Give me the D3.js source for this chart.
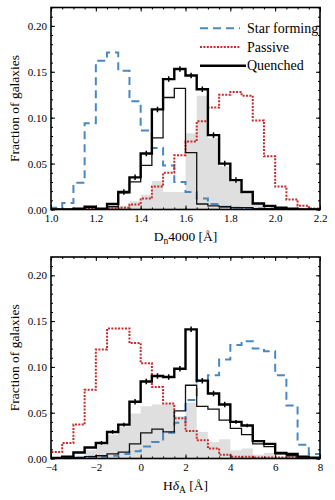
<!DOCTYPE html>
<html>
<head>
<meta charset="utf-8">
<script src="https://cdn.jsdelivr.net/npm/d3@7"></script>
<style>
  body { margin: 0; background: #fff; }
  svg { display: block; }
  text { font-family: "Liberation Serif", "Times New Roman", serif; fill: #000; }
</style>
</head>
<body>
<svg id="chart" width="335" height="500"></svg>
<script>
//
// Data
//

// D_n4000 histogram: bin edges and fractions per bin
const dnEdges = [1.00, 1.05, 1.10, 1.15, 1.20, 1.25, 1.30, 1.35, 1.40, 1.45, 1.50, 1.55,
                 1.60, 1.65, 1.70, 1.75, 1.80, 1.85, 1.90, 1.95, 2.00, 2.05, 2.10, 2.15, 2.20];
const dnStarForming = [0.002, 0.007, 0.029, 0.094, 0.162, 0.171, 0.151, 0.118, 0.086, 0.067, 0.048, 0.030,
                       0.019, 0.012, 0.006, 0.003, 0.002, 0.001, 0.001, 0.001, 0.0005, 0, 0, 0];
const dnPassive = [0, 0, 0, 0.0005, 0.0005, 0.001, 0.002, 0.0055, 0.012, 0.025, 0.040, 0.059,
                   0.074, 0.096, 0.111, 0.125, 0.128, 0.124, 0.097, 0.058, 0.025, 0.011, 0.004, 0.001];
const dnQuenched = [0, 0, 0.001, 0.003, 0.001, 0.006, 0.019, 0.035, 0.061, 0.109, 0.142, 0.153,
                    0.146, 0.131, 0.081, 0.050, 0.032, 0.019, 0.0066, 0.004, 0.002, 0.001, 0, 0];
const dnQuenchedErr = [0, 0, 0, 0, 0, 0, 0.003, 0.003, 0.003, 0.003, 0.003, 0.003,
                       0.003, 0.003, 0.003, 0.003, 0.003, 0, 0, 0, 0, 0, 0, 0];
const dnQuenchedSub = [0, 0, 0.001, 0.002, 0.001, 0.003, 0.018, 0.030, 0.048, 0.078, 0.122, 0.132,
                       0.062, 0.006, 0.004, 0.003, 0.002, 0.002, 0.001, 0.001, 0.001, 0, 0, 0];
const dnQuenchedRest = [0, 0, 0, 0, 0, 0.002, 0.004, 0.009, 0.016, 0.031, 0.019, 0.019,
                        0.083, 0.124, 0.078, 0.047, 0.030, 0.017, 0.006, 0.003, 0.001, 0, 0, 0];
const dnTicks = [1.0, 1.2, 1.4, 1.6, 1.8, 2.0, 2.2];
const dnTickLabels = ['1.0', '1.2', '1.4', '1.6', '1.8', '2.0', '2.2'];

// H-delta_A histogram
const hdEdges = [-4.0, -3.5, -3.0, -2.5, -2.0, -1.5, -1.0, -0.5, 0.0, 0.5, 1.0, 1.5,
                 2.0, 2.5, 3.0, 3.5, 4.0, 4.5, 5.0, 5.5, 6.0, 6.5, 7.0, 7.5, 8.0];
const hdStarForming = [0, 0.0005, 0.001, 0.002, 0.002, 0.003, 0.005, 0.008, 0.013, 0.018, 0.028, 0.039,
                       0.064, 0.085, 0.091, 0.108, 0.124, 0.128, 0.120, 0.117, 0.091, 0.058, 0.015, 0.005];
const hdPassive = [0.007, 0.017, 0.037, 0.075, 0.119, 0.142, 0.142, 0.126, 0.104, 0.078, 0.060, 0.044,
                   0.030, 0.020, 0.011, 0.004, 0.002, 0.002, 0.001, 0.001, 0.001, 0.001, 0.0005, 0];
const hdQuenched = [0.0007, 0.002, 0.0066, 0.012, 0.017, 0.029, 0.037, 0.062, 0.084, 0.090, 0.089, 0.098,
                    0.141, 0.085, 0.071, 0.059, 0.040, 0.036, 0.019, 0.016, 0.006, 0.005, 0.002, 0.001];
const hdQuenchedErr = [0, 0, 0, 0, 0.002, 0.002, 0.002, 0.003, 0.003, 0.003, 0.003, 0.003,
                       0.003, 0.003, 0.003, 0.003, 0.002, 0.002, 0, 0, 0, 0, 0, 0];
const hdQuenchedSub = [0, 0, 0.001, 0.002, 0.003, 0.005, 0.007, 0.016, 0.028, 0.032, 0.029, 0.052,
                       0.080, 0.057, 0.054, 0.042, 0.033, 0.026, 0.016, 0.013, 0.005, 0.003, 0.002, 0.001];
const hdQuenchedRest = [0, 0.001, 0.003, 0.009, 0.015, 0.026, 0.035, 0.049, 0.057, 0.059, 0.060, 0.046,
                        0.061, 0.029, 0.018, 0.021, 0.009, 0.011, 0.004, 0.006, 0.002, 0.002, 0.001, 0];
const hdTicks = [-4, -2, 0, 2, 4, 6, 8];
const hdTickLabels = ['\u22124', '\u22122', '0', '2', '4', '6', '8'];

const yTicks = [0, 0.05, 0.10, 0.15, 0.20];
const yTickLabels = ['0.00', '0.05', '0.10', '0.15', '0.20'];

const legendNames = ['Star forming', 'Passive', 'Quenched'];

//
// Styles
//

const colorBlue = '#4a88c2';
const colorRed = '#c92b2b';
const colorGray = '#dfdfdf';
const left = 51, right = 320;
const serif = '"Liberation Serif", "Times New Roman", serif';

const svg = d3.select('#chart');

function drawPanel(p) {
  const g = svg.append('g');
  const n = p.edges.length - 1;

  const x = d3.scaleLinear().domain([p.edges[0], p.edges[n]]).range([left, right]);
  const y = d3.scaleLinear().domain([0, 0.22]).range([p.bottom, p.top]);

  const clipId = 'clip' + p.id;
  g.append('clipPath').attr('id', clipId)
    .append('rect').attr('x', left).attr('y', p.top)
    .attr('width', right - left).attr('height', p.bottom - p.top);

  const plot = g.append('g').attr('clip-path', `url(#${clipId})`);

  // histogram points as (left edge, value), closed at the last edge
  const steps = vals => vals.map((v, i) => [p.edges[i], v]).concat([[p.edges[n], vals[n - 1]]]);

  const area = d3.area()
      .x(d => x(d[0])).y0(y(0)).y1(d => y(d[1]))
      .curve(d3.curveStepAfter);
  const line = d3.line()
      .x(d => x(d[0])).y(d => y(d[1]))
      .curve(d3.curveStepAfter);
  const closed = vals => [[p.edges[0], 0]].concat(steps(vals), [[p.edges[n], 0]]);

  plot.append('path').attr('d', area(steps(p.rest))).attr('fill', colorGray);

  plot.append('path').attr('d', line(closed(p.starForming)))
    .attr('fill', 'none').attr('stroke', colorBlue).attr('stroke-width', 2)
    .attr('stroke-dasharray', '8,5');

  plot.append('path').attr('d', line(closed(p.passive)))
    .attr('fill', 'none').attr('stroke', colorRed).attr('stroke-width', 2)
    .attr('stroke-dasharray', '2,1.4');

  plot.append('path').attr('d', line(closed(p.sub)))
    .attr('fill', 'none').attr('stroke', '#111').attr('stroke-width', 1.3);

  plot.append('path').attr('d', line(closed(p.quenched)))
    .attr('fill', 'none').attr('stroke', '#000').attr('stroke-width', 2.4);

  // error bars on the quenched histogram
  plot.selectAll('.err')
    .data(p.quenched.map((v, i) => ({c: (p.edges[i] + p.edges[i + 1]) / 2, v: v, e: p.err[i]}))
      .filter(d => d.e > 0))
    .join('line')
      .attr('x1', d => x(d.c)).attr('x2', d => x(d.c))
      .attr('y1', d => y(d.v - d.e)).attr('y2', d => y(d.v + d.e))
      .attr('stroke', '#000').attr('stroke-width', 1.5);

  // axes, ticks pointing inwards on all four sides
  const axes = g.append('g').attr('class', 'axes');
  const styleAxis = sel => {
    sel.attr('font-family', null);
    sel.select('.domain').remove();
    sel.selectAll('.tick line').attr('stroke', '#000').attr('stroke-width', 1);
    sel.selectAll('.tick text').attr('font-size', 11).style('font-family', serif);
  };

  axes.append('g').attr('transform', `translate(0,${p.bottom})`)
    .call(d3.axisBottom(x).tickValues(x.ticks(24)).tickSize(-2).tickFormat(''))
    .call(styleAxis);
  axes.append('g').attr('transform', `translate(0,${p.bottom})`)
    .call(d3.axisBottom(x).tickValues(p.ticks).tickSize(-4).tickPadding(5)
      .tickFormat((d, i) => p.tickLabels[i]))
    .call(styleAxis);
  axes.append('g').attr('transform', `translate(0,${p.top})`)
    .call(d3.axisTop(x).tickValues(x.ticks(24)).tickSize(-2).tickFormat(''))
    .call(styleAxis);
  axes.append('g').attr('transform', `translate(0,${p.top})`)
    .call(d3.axisTop(x).tickValues(p.ticks).tickSize(-4).tickFormat(''))
    .call(styleAxis);

  axes.append('g').attr('transform', `translate(${left},0)`)
    .call(d3.axisLeft(y).tickValues(y.ticks(22)).tickSize(-2).tickFormat(''))
    .call(styleAxis);
  axes.append('g').attr('transform', `translate(${left},0)`)
    .call(d3.axisLeft(y).tickValues(yTicks).tickSize(-4).tickPadding(4)
      .tickFormat((d, i) => yTickLabels[i]))
    .call(styleAxis);
  axes.append('g').attr('transform', `translate(${right},0)`)
    .call(d3.axisRight(y).tickValues(y.ticks(22)).tickSize(-2).tickFormat(''))
    .call(styleAxis);
  axes.append('g').attr('transform', `translate(${right},0)`)
    .call(d3.axisRight(y).tickValues(yTicks).tickSize(-4).tickFormat(''))
    .call(styleAxis);

  // frame
  g.append('rect')
    .attr('x', left).attr('y', p.top)
    .attr('width', right - left).attr('height', p.bottom - p.top)
    .attr('fill', 'none').attr('stroke', '#000').attr('stroke-width', 1.6);

  // axis labels
  g.append('text')
    .attr('transform', `translate(19,${(p.top + p.bottom) / 2}) rotate(-90)`)
    .attr('text-anchor', 'middle').attr('font-size', 13.5)
    .text('Fraction of galaxies');

  const xl = g.append('text')
    .attr('x', (left + right) / 2).attr('y', p.bottom + 31)
    .attr('text-anchor', 'middle').attr('font-size', 13.5);
  p.xLabel(xl);

  return {x, y, g};
}

const topPanel = drawPanel({
  id: 'dn', edges: dnEdges, top: 7.5, bottom: 209.5,
  starForming: dnStarForming, passive: dnPassive, quenched: dnQuenched,
  err: dnQuenchedErr, sub: dnQuenchedSub, rest: dnQuenchedRest,
  ticks: dnTicks, tickLabels: dnTickLabels,
  xLabel: t => {
    t.append('tspan').text('D');
    t.append('tspan').attr('font-size', 9.5).attr('dy', 3).text('n');
    t.append('tspan').attr('dy', -3).text('4000 [\u00C5]');
  }
});

drawPanel({
  id: 'hd', edges: hdEdges, top: 257, bottom: 458.5,
  starForming: hdStarForming, passive: hdPassive, quenched: hdQuenched,
  err: hdQuenchedErr, sub: hdQuenchedSub, rest: hdQuenchedRest,
  ticks: hdTicks, tickLabels: hdTickLabels,
  xLabel: t => {
    t.append('tspan').text('H');
    t.append('tspan').attr('font-style', 'italic').text('\u03B4');
    t.append('tspan').attr('font-size', 9.5).attr('dy', 3).text('A');
    t.append('tspan').attr('dy', -3).text(' [\u00C5]');
  }
});

// legend (top panel only)
const legendStyles = [
  {stroke: colorBlue, width: 2, dash: '8,5', x2: 240},
  {stroke: colorRed, width: 2, dash: '2,1.4', x2: 240},
  {stroke: '#000', width: 2.4, dash: null, x2: 246}
];
const legend = topPanel.g.append('g');
legendNames.forEach((name, i) => {
  const yy = 28.3 + i * 18.7;
  const s = legendStyles[i];
  legend.append('line')
    .attr('x1', 200).attr('x2', s.x2).attr('y1', yy).attr('y2', yy)
    .attr('stroke', s.stroke).attr('stroke-width', s.width)
    .attr('stroke-dasharray', s.dash);
  legend.append('text')
    .attr('x', 247).attr('y', yy + 4.5).attr('font-size', 14)
    .text(name);
});
</script>
</body>
</html>
